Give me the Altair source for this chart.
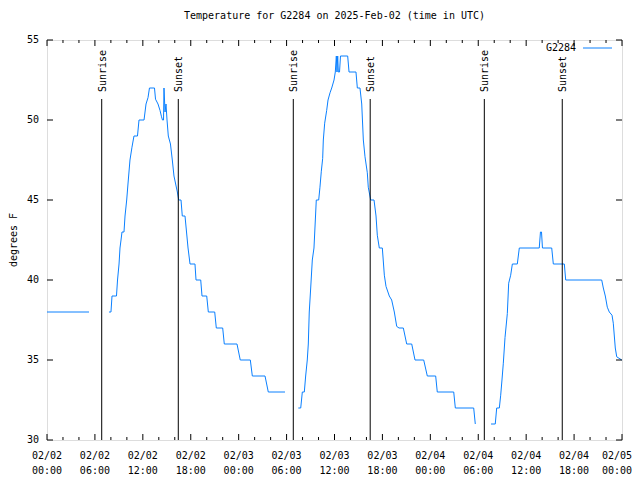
import altair as alt
import pandas as pd

FONT = "DejaVu Sans Mono"
BLUE = "#0a80ff"

# Hours since 2025-02-02 00:00 UTC and temperature (deg F), one list pair per unbroken segment
s1_h = [0.00, 5.26]
s1_t = [38, 38]

s2_h = [7.76, 8.01, 8.14, 8.70, 8.83, 9.02, 9.14, 9.27, 9.39, 9.64, 9.77, 9.98, 10.14, 10.39,
        10.64, 10.89, 11.33, 11.52, 12.15, 12.40, 12.65, 12.83, 13.46, 13.59, 13.90, 14.15,
        14.34, 14.46, 14.59, 14.65, 14.78, 14.90, 15.03, 15.19, 15.46, 15.69, 15.90, 16.32,
        16.49, 16.78, 16.94, 17.28, 17.47, 17.66, 17.91, 18.53, 18.66, 19.25, 19.41, 20.00,
        20.20, 21.00, 21.20, 22.00, 22.20, 23.79, 24.20, 25.46, 25.71, 27.30, 27.71, 29.80]
s2_t = [38, 38, 39, 39, 40, 41, 42, 42.5, 43, 43, 44, 45, 46, 47.5,
        48.3, 49, 49, 50, 50, 51, 51.4, 52, 52, 51.3, 51, 50.6,
        50.2, 50, 50, 52, 50.5, 51, 50, 49, 48.5, 47.5, 46.5, 45.5,
        45, 45, 44, 44, 43, 42, 41, 41, 40, 40, 39, 39,
        38, 38, 37, 37, 36, 36, 35, 35, 34, 34, 33, 33]

s3_h = [31.47, 31.77, 31.97, 32.22, 32.39, 32.59, 32.72, 32.84, 33.02, 33.22, 33.43, 33.60,
        33.72, 34.02, 34.18, 34.35, 34.52, 34.60, 34.77, 35.02, 35.19, 35.44, 35.65, 35.94,
        36.10, 36.23, 36.31, 36.40, 36.48, 36.63, 36.75, 37.65, 37.82, 38.69, 38.86, 39.19,
        39.41, 39.61, 39.82, 40.11, 40.23, 40.53, 40.95, 41.20, 41.36, 41.61, 41.99, 42.24,
        42.45, 42.86, 43.16, 43.49, 43.79, 44.08, 44.62, 45.04, 45.67, 46.08, 47.17, 47.62,
        48.67, 48.87, 50.93, 51.13, 53.43, 53.63]
s3_t = [32, 32, 33, 33, 34, 35, 36, 38, 39.5, 41.25, 42, 43.75,
        45, 45, 45.8, 46.8, 47.6, 48.75, 49.8, 50.6, 51.25, 51.7, 52, 52.5,
        53, 54, 53, 54, 53, 53, 54, 54, 53, 53, 52, 52,
        51, 48.75, 47.7, 46.7, 45.8, 45, 45, 44, 42.8, 42, 42, 40.3,
        39.6, 39, 38.75, 38, 37.1, 37, 37, 36, 36, 35, 35, 34,
        34, 33, 33, 32, 32, 31]

s4_h = [55.60, 56.13, 56.31, 56.64, 56.81, 56.97, 57.14, 57.35, 57.64, 57.81, 58.06, 58.27,
        58.89, 59.14, 61.64, 61.79, 61.92, 62.04, 63.20, 63.40, 64.78, 64.95, 69.46, 69.66,
        69.91, 70.16, 70.41, 70.75, 70.91, 71.16, 71.34, 71.97]
s4_t = [31, 31, 32, 32, 32.8, 33.75, 34.8, 36.4, 37.9, 39.8, 40.3, 41,
        41, 42, 42, 43, 43, 42, 42, 41, 41, 40, 40, 39.5,
        39, 38.3, 38, 37.8, 37.3, 35.75, 35.2, 35]

event_h = [6.85, 16.44, 30.84, 40.47, 54.76, 64.52]
event_lbl = ["Sunrise", "Sunset", "Sunrise", "Sunset", "Sunrise", "Sunset"]

x_major = [0, 6, 12, 18, 24, 30, 36, 42, 48, 54, 60, 66, 72]
x_lbl_date = ["02/02", "02/02", "02/02", "02/02", "02/03", "02/03", "02/03", "02/03",
              "02/04", "02/04", "02/04", "02/04", "02/05"]
x_lbl_time = ["00:00", "06:00", "12:00", "18:00", "00:00", "06:00", "12:00", "18:00",
              "00:00", "06:00", "12:00", "18:00", "00:00"]
x_minor = [2, 4, 8, 10, 14, 16, 20, 22, 26, 28, 32, 34, 38, 40, 44, 46, 50, 52, 56, 58, 62, 64, 68, 70]
y_major = [30, 35, 40, 45, 50, 55]
y_lbl = ["30", "35", "40", "45", "50", "55"]

rows = []
for i, (hs, ts) in enumerate([(s1_h, s1_t), (s2_h, s2_t), (s3_h, s3_t), (s4_h, s4_t)]):
    for h, t in zip(hs, ts):
        rows.append({"h": h, "t": t, "seg": i})
df = pd.DataFrame(rows)
ev = pd.DataFrame({"h": event_h, "label": event_lbl})
xmaj = pd.DataFrame({"h": x_major, "d": x_lbl_date, "tm": x_lbl_time})
xmin = pd.DataFrame({"h": x_minor})
ymaj = pd.DataFrame({"t": y_major, "lbl": y_lbl})

xs = alt.Scale(domain=[0, 72], nice=False, zero=False)
ys = alt.Scale(domain=[30, 55], nice=False, zero=False)
XN = dict(scale=xs, axis=None)
YN = dict(scale=ys, axis=None)

line = alt.Chart(df).mark_line(color=BLUE, strokeWidth=1, clip=True).encode(
    x=alt.X("h:Q", **XN),
    y=alt.Y("t:Q", **YN),
    detail="seg:N",
)

ev_rules = alt.Chart(ev).mark_rule(color="black", strokeWidth=1).encode(
    x=alt.X("h:Q", **XN), y=alt.value(59), y2=alt.value(400),
)
ev_text = alt.Chart(ev).mark_text(
    angle=270, align="left", baseline="middle", font=FONT, fontSize=10, color="black", dy=1
).encode(x=alt.X("h:Q", **XN), y=alt.value(52), text="label:N")

def xtick(data, y0, y1):
    return alt.Chart(data).mark_rule(color="black", strokeWidth=1).encode(
        x=alt.X("h:Q", **XN), y=alt.value(y0), y2=alt.value(y1))

def ytick(x0, x1):
    return alt.Chart(ymaj).mark_rule(color="black", strokeWidth=1).encode(
        y=alt.Y("t:Q", **YN), x=alt.value(x0), x2=alt.value(x1))

ticks = [xtick(xmaj, 400, 394), xtick(xmaj, 0, 6), xtick(xmin, 400, 397), xtick(xmin, 0, 3),
         ytick(0, 6), ytick(575, 569)]

def xlabels(field, ypos):
    base = alt.Chart(xmaj)
    inner = base.transform_filter("datum.h < 72").mark_text(
        align="center", baseline="middle", font=FONT, fontSize=10, color="black").encode(
        x=alt.X("h:Q", **XN), y=alt.value(ypos), text=f"{field}:N")
    last = base.transform_filter("datum.h >= 72").mark_text(
        align="right", baseline="middle", font=FONT, fontSize=10, color="black", dx=10).encode(
        x=alt.X("h:Q", **XN), y=alt.value(ypos), text=f"{field}:N")
    return [inner, last]

xl = xlabels("d", 416) + xlabels("tm", 431)
yl = alt.Chart(ymaj).mark_text(align="right", baseline="middle", font=FONT, fontSize=10,
                               color="black").encode(
    y=alt.Y("t:Q", **YN), x=alt.value(-8), text="lbl:N")

ytitle_df = pd.DataFrame({"txt": ["degrees F"]})
ytitle = alt.Chart(ytitle_df).mark_text(angle=270, align="center", baseline="middle",
                                        font=FONT, fontSize=10, color="black").encode(
    x=alt.value(-33), y=alt.value(200), text="txt:N")

leg = pd.DataFrame({"name": ["G2284"]})
leg_text = alt.Chart(leg).mark_text(
    align="right", baseline="middle", font=FONT, fontSize=10, color="black"
).encode(x=alt.value(529), y=alt.value(8), text="name:N")
leg_line = alt.Chart(leg).mark_rule(color=BLUE, strokeWidth=1).encode(
    x=alt.value(536), x2=alt.value(565), y=alt.value(8))

chart = alt.layer(line, ev_rules, ev_text, *ticks, *xl, yl, ytitle,
                  leg_text, leg_line).properties(
    width=575, height=400,
    title=alt.TitleParams("Temperature for G2284 on 2025-Feb-02 (time in UTC)",
                          font=FONT, fontSize=10, fontWeight="normal", color="black",
                          anchor="middle", offset=14),
    autosize=alt.AutoSizeParams(type="none"),
    padding={"left": 39, "top": 32, "right": 10, "bottom": 40},
).configure_view(stroke="black", strokeWidth=1).configure(background="white")

chart.save("out.html", embed_options={"renderer": "svg", "actions": False})
